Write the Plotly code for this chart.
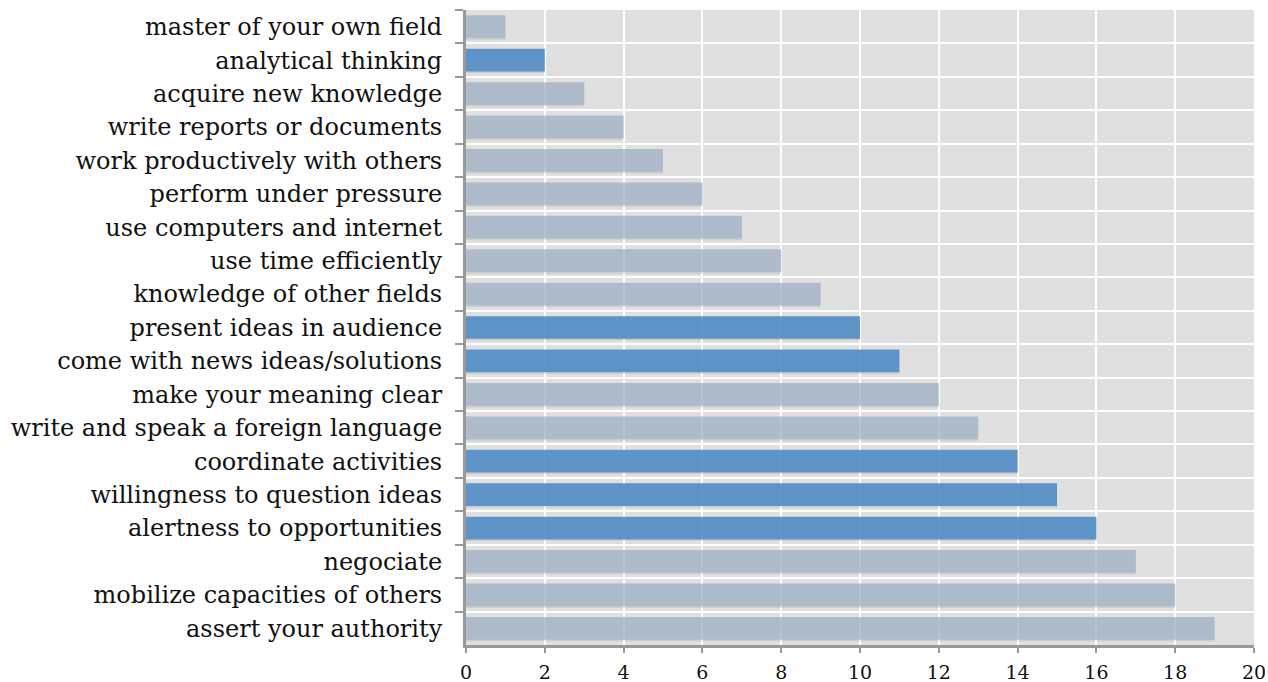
import plotly.graph_objects as go

categories = [
    "master of your own field",
    "analytical thinking",
    "acquire new knowledge",
    "write reports or documents",
    "work productively with others",
    "perform under pressure",
    "use computers and internet",
    "use time efficiently",
    "knowledge of other fields",
    "present ideas in audience",
    "come with news ideas/solutions",
    "make your meaning clear",
    "write and speak a foreign language",
    "coordinate activities",
    "willingness to question ideas",
    "alertness to opportunities",
    "negociate",
    "mobilize capacities of others",
    "assert your authority",
]
values = [1, 2, 3, 4, 5, 6, 7, 8, 9, 10, 11, 12, 13, 14, 15, 16, 17, 18, 19]
highlighted = [
    "analytical thinking",
    "present ideas in audience",
    "come with news ideas/solutions",
    "coordinate activities",
    "willingness to question ideas",
    "alertness to opportunities",
]
x_ticks = [0, 2, 4, 6, 8, 10, 12, 14, 16, 18, 20]

HI = "rgba(81,141,198,0.9)"
LO = "rgba(161,180,201,0.75)"
colors = [HI if c in highlighted else LO for c in categories]

fig = go.Figure()
# soft drop shadow behind bars
fig.add_trace(go.Bar(
    y=categories, x=values, orientation="h",
    marker=dict(color="rgba(0,0,0,0.08)", line=dict(width=0)),
    width=0.72, offset=-0.33,
    hoverinfo="skip",
))
fig.add_trace(go.Bar(
    y=categories, x=values, orientation="h",
    marker=dict(color=colors, line=dict(width=0)),
    width=0.68, offset=-0.34,
    hoverinfo="x+y",
))

font_family = "DejaVu Serif, Georgia, serif"
fig.update_layout(
    width=1268, height=682,
    margin=dict(l=466, r=14, t=10, b=37),
    paper_bgcolor="white",
    plot_bgcolor="#e0e0e0",
    showlegend=False,
    barmode="overlay",
    font=dict(family=font_family, color="#111111"),
)
fig.update_xaxes(
    automargin=False,
    range=[0, 20], tickvals=x_ticks, ticktext=[str(t) for t in x_ticks],
    showgrid=True, gridcolor="white", gridwidth=2,
    showline=True, linecolor="#999999", linewidth=3,
    ticks="outside", ticklen=5, tickcolor="#999999", tickwidth=2,
    tickfont=dict(size=19, family=font_family),
    ticklabelstandoff=3,
    zeroline=False, fixedrange=True,
)
fig.update_yaxes(
    automargin=False,
    type="category", categoryorder="array", categoryarray=categories,
    autorange="reversed",
    tickson="boundaries",
    showgrid=True, gridcolor="white", gridwidth=2,
    showline=True, linecolor="#999999", linewidth=3,
    ticks="outside", ticklen=8, tickcolor="#999999", tickwidth=2,
    tickfont=dict(size=24, family=font_family),
    ticklabelstandoff=16,
    fixedrange=True,
)

fig.write_html(
    "out.html",
    config={"displayModeBar": False},
    post_script="document.body.style.margin='0';document.body.style.overflow='hidden';",
)
